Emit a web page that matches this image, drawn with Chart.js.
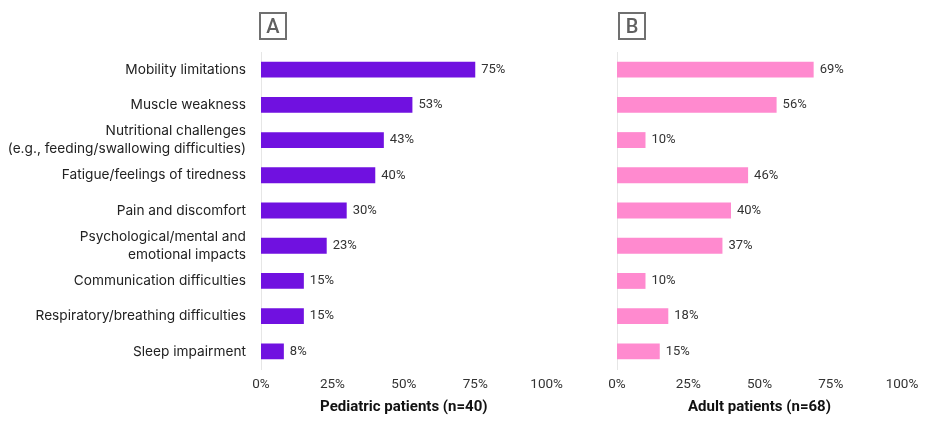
<!DOCTYPE html>
<html>
<head>
<meta charset="utf-8">
<script src="https://cdn.jsdelivr.net/npm/chart.js@4"></script>
<style>
  html, body { margin: 0; padding: 0; background: #fff; }
  body { width: 940px; height: 425px; position: relative; overflow: hidden; font-family: Inter, "Noto Sans", sans-serif; }
  .wrap { position: absolute; top: 0; height: 425px; }
  .tag { position: absolute; top: 12px; width: 24px; height: 24px; border: 2px solid #707070; color: #606060;
         font: 500 20px Roboto, sans-serif; line-height: 24px; text-align: center; box-sizing: content-box; }
</style>
</head>
<body>
<div class="wrap" style="left:0;width:571px;"><canvas id="c1"></canvas></div>
<div class="wrap" style="left:600px;width:340px;"><canvas id="c2"></canvas></div>
<div class="tag" style="left:259px;">A</div>
<div class="tag" style="left:618px;">B</div>
<script>
const categories = [
  "Mobility limitations",
  "Muscle weakness",
  ["Nutritional challenges", "(e.g., feeding/swallowing difficulties)"],
  "Fatigue/feelings of tiredness",
  "Pain and discomfort",
  ["Psychological/mental and", "emotional impacts"],
  "Communication difficulties",
  "Respiratory/breathing difficulties",
  "Sleep impairment"
];
const pediatricValues = [75, 53, 43, 40, 30, 23, 15, 15, 8];
const adultValues = [69, 56, 10, 46, 40, 37, 10, 18, 15];
const xTicks = [0, 25, 50, 75, 100];
const pediatricTitle = "Pediatric patients (n=40)";
const adultTitle = "Adult patients (n=68)";

const valueLabels = {
  id: 'valueLabels',
  afterDatasetsDraw(chart) {
    const ctx = chart.ctx;
    ctx.save();
    ctx.font = '13px Roboto, sans-serif';
    ctx.fillStyle = '#333';
    ctx.textBaseline = 'middle';
    ctx.textAlign = 'left';
    chart.getDatasetMeta(0).data.forEach((bar, i) => {
      const v = chart.data.datasets[0].data[i];
      ctx.fillText(v + '%', bar.x + 6, bar.y);
    });
    ctx.restore();
  }
};

function makeChart(id, values, color, title, showLabels, yWidth, padRight) {
  return new Chart(document.getElementById(id), {
    type: 'bar',
    data: {
      labels: categories,
      datasets: [{ data: values, backgroundColor: color, barPercentage: 0.9, categoryPercentage: 0.5 }]
    },
    options: {
      indexAxis: 'y',
      responsive: true,
      maintainAspectRatio: false,
      animation: false,
      layout: { padding: { top: 52, right: padRight, left: 0, bottom: 9 } },
      plugins: { legend: { display: false }, tooltip: { enabled: false } },
      scales: {
        x: {
          min: 0, max: 100,
          afterBuildTicks(s) { s.ticks = xTicks.map(v => ({ value: v })); },
          grid: { display: false, drawTicks: false },
          border: { display: false },
          ticks: { color: '#333', font: { size: 13.5, family: 'Roboto' }, padding: 8, callback: v => v + '%' },
          title: { display: true, text: title, color: '#111', font: { size: 15, weight: 'bold', family: 'Roboto' }, padding: { top: 0, bottom: 0 } },
          afterFit(s) { s.height = 47; }
        },
        y: {
          grid: { display: false, drawTicks: false },
          border: { display: true, color: '#e6e6e6', width: 1 },
          ticks: { display: showLabels, autoSkip: false, color: '#222', font: { size: 13.7, family: 'Inter', lineHeight: 1.3 }, padding: 15 },
          afterFit(s) { s.width = yWidth; }
        }
      }
    },
    plugins: [valueLabels]
  });
}

makeChart('c1', pediatricValues, '#7011E0', pediatricTitle, true, 261, 3);
makeChart('c2', adultValues, '#FF8ACF', adultTitle, false, 17, 38);
</script>
</body>
</html>
